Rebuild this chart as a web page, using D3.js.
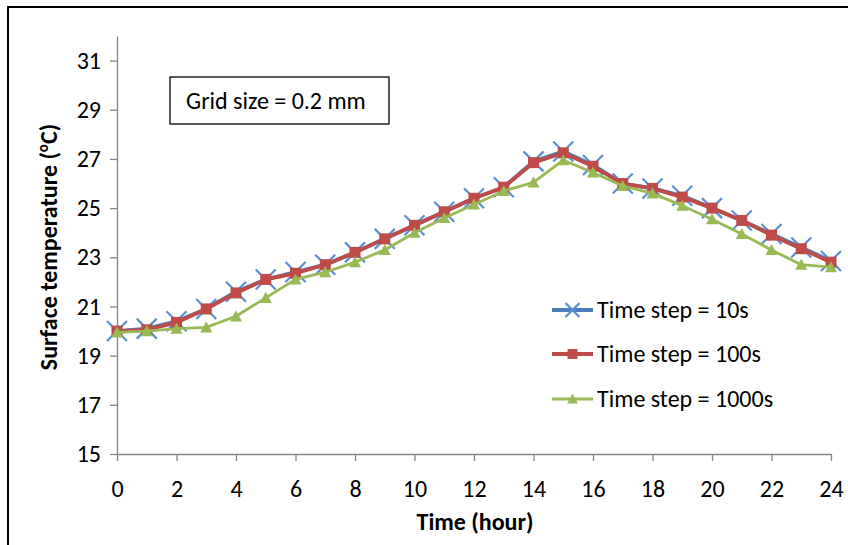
<!DOCTYPE html>
<html>
<head>
<meta charset="utf-8">
<script src="https://cdn.jsdelivr.net/npm/d3@7"></script>
<style>
  html, body { margin: 0; padding: 0; background: #fff; }
  svg { display: block; }
  text { font-family: Carlito, Lato, "Liberation Sans", sans-serif; fill: #000; }
</style>
</head>
<body>
<svg id="chart" width="848" height="545"></svg>
<script>
const hours = d3.range(0, 25);
const ts10   = [20.0, 20.1, 20.4, 20.9, 21.6, 22.1, 22.4, 22.7, 23.2, 23.75, 24.3, 24.85, 25.4, 25.85, 26.9, 27.3, 26.75, 26.0, 25.8, 25.5, 25.0, 24.5, 23.95, 23.4, 22.85];
const ts100  = [20.0, 20.05, 20.35, 20.9, 21.55, 22.1, 22.35, 22.7, 23.2, 23.75, 24.3, 24.85, 25.4, 25.85, 26.85, 27.25, 26.7, 26.0, 25.8, 25.45, 25.0, 24.5, 23.9, 23.35, 22.8];
const ts1000 = [19.95, 20.0, 20.1, 20.15, 20.6, 21.35, 22.1, 22.4, 22.8, 23.3, 24.0, 24.6, 25.15, 25.7, 26.05, 26.95, 26.45, 25.9, 25.6, 25.1, 24.55, 23.95, 23.3, 22.7, 22.6];
const seriesNames = ["Time step = 10s", "Time step = 100s", "Time step = 1000s"];
const xTicks = d3.range(0, 25, 2);
const yTicks = [15, 17, 19, 21, 23, 25, 27, 29, 31];
const annotation = "Grid size = 0.2 mm";
const xTitle = "Time (hour)";
const yTitle = "Surface temperature (";

const FS = 24;
const svg = d3.select("#chart");

// outer frame (extends past the photographed area)
svg.append("rect").attr("x", 8).attr("y", 7).attr("width", 900).attr("height", 600)
  .attr("fill", "#fff").attr("stroke", "#000").attr("stroke-width", 2);

const x = d3.scaleLinear().domain([0, 24]).range([117, 831]);
const y = d3.scaleLinear().domain([15, 32]).range([454, 36]);

const axisColor = "#868686";

const gx = svg.append("g").attr("transform", `translate(0,${y(15)})`)
  .call(d3.axisBottom(x).tickValues(xTicks).tickSize(7).tickSizeOuter(0).tickPadding(19));
const gy = svg.append("g").attr("transform", `translate(${x(0)},0)`)
  .call(d3.axisLeft(y).tickValues(yTicks).tickSize(7).tickSizeOuter(0).tickPadding(9));
[gx, gy].forEach(g => {
  g.select(".domain").attr("stroke", axisColor).attr("stroke-width", 1.3);
  g.selectAll(".tick line").attr("stroke", axisColor).attr("stroke-width", 1.3);
  g.selectAll(".tick text").attr("font-size", FS).attr("fill", "#000")
    .style("font-family", "Carlito, Lato, 'Liberation Sans', sans-serif");
});

// axis titles
svg.append("text").attr("x", 475).attr("y", 530).attr("text-anchor", "middle")
  .attr("font-size", FS).attr("font-weight", "bold").text(xTitle);
const yt = svg.append("text").attr("transform", `translate(57,247) rotate(-90)`)
  .attr("text-anchor", "middle").attr("font-size", FS).attr("font-weight", "bold");
yt.append("tspan").text(yTitle);
yt.append("tspan").attr("font-size", 15).attr("dy", -9).text("o");
yt.append("tspan").attr("dy", 9).text("C)");

// annotation box
svg.append("rect").attr("x", 170).attr("y", 77).attr("width", 219).attr("height", 47)
  .attr("fill", "#fff").attr("stroke", "#000").attr("stroke-width", 1.3);
svg.append("text").attr("x", 186).attr("y", 109).attr("font-size", FS).text(annotation);

const colors = ["#4A7EBB", "#BE4B48", "#98B954"];
const markerColors = ["#5B8FD2", "#BE4B48", "#98B954"];
const data = [ts10, ts100, ts1000];
const widths = [3.8, 3.8, 2.8];

function drawMarker(g, type, cx, cy, scale) {
  const s = scale || 1;
  if (type === 0) {
    const h = 10 * s;
    g.append("path").attr("d", `M${cx - h},${cy - h}L${cx + h},${cy + h}M${cx - h},${cy + h}L${cx + h},${cy - h}`)
      .attr("stroke", markerColors[0]).attr("stroke-width", 2.2).attr("fill", "none");
  } else if (type === 1) {
    const h = 5.5 * s;
    g.append("rect").attr("x", cx - h).attr("y", cy - h).attr("width", 2 * h).attr("height", 2 * h)
      .attr("fill", markerColors[1]);
  } else {
    const h = 6 * s;
    g.append("path").attr("d", `M${cx},${cy - h}L${cx + h},${cy + h * 0.85}L${cx - h},${cy + h * 0.85}Z`)
      .attr("fill", markerColors[2]);
  }
}

const line = d3.line().x((d, i) => x(hours[i])).y(d => y(d));
data.forEach((vals, k) => {
  const g = svg.append("g");
  g.append("path").datum(vals).attr("d", line).attr("fill", "none")
    .attr("stroke", colors[k]).attr("stroke-width", widths[k]).attr("stroke-linejoin", "round");
  vals.forEach((v, i) => drawMarker(g, k, x(hours[i]), y(v)));
});

// legend
const legY = [310, 354, 399];
seriesNames.forEach((name, k) => {
  const g = svg.append("g");
  g.append("line").attr("x1", 552).attr("x2", 593).attr("y1", legY[k]).attr("y2", legY[k])
    .attr("stroke", colors[k]).attr("stroke-width", widths[k]);
  drawMarker(g, k, 572.5, legY[k], k === 0 ? 0.7 : 0.9);
  g.append("text").attr("x", 597).attr("y", legY[k]).attr("dy", "0.35em")
    .attr("font-size", FS).text(name);
});
</script>
</body>
</html>
